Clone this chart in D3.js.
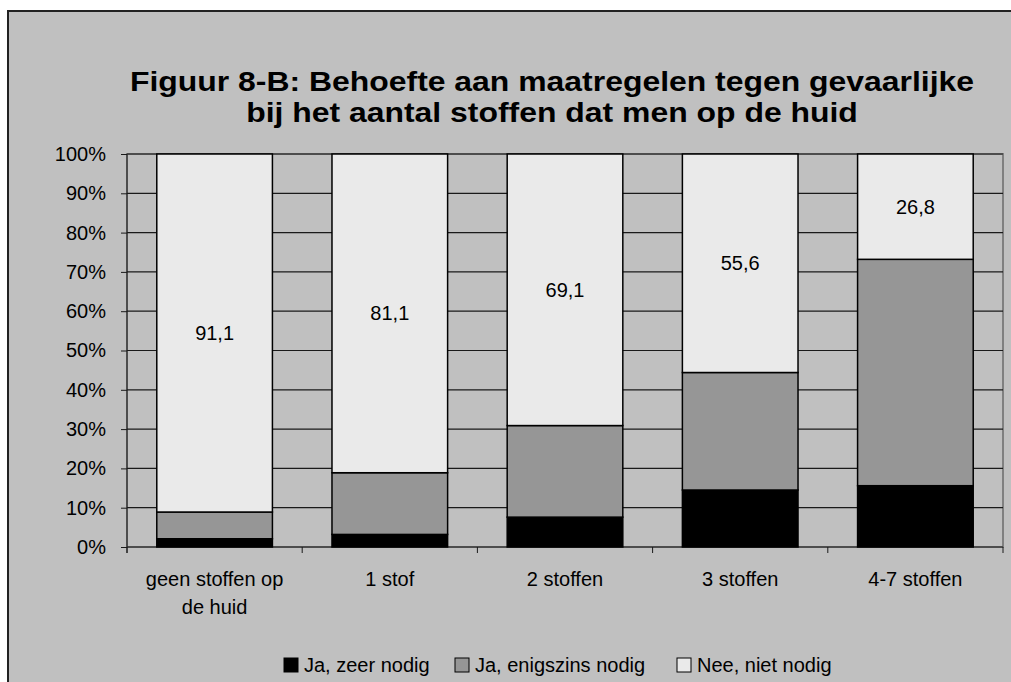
<!DOCTYPE html>
<html>
<head>
<meta charset="utf-8">
<script src="https://cdn.jsdelivr.net/npm/d3@7"></script>
<style>
  html, body { margin: 0; padding: 0; background: #fff; }
  text { font-family: "Liberation Sans", Arial, sans-serif; }
</style>
</head>
<body>
<div id="chart-container"></div>
<script>
// data
let categories = [["geen stoffen op", "de huid"], ["1 stof"], ["2 stoffen"], ["3 stoffen"], ["4-7 stoffen"]];
let zeerNodig = [2.1, 3.2, 7.6, 14.5, 15.6];
let enigszinsNodig = [6.8, 15.7, 23.3, 29.9, 57.6];
let nietNodig = [91.1, 81.1, 69.1, 55.6, 26.8];
let seriesNames = ["Ja, zeer nodig", "Ja, enigszins nodig", "Nee, niet nodig"];
let yTicks = [0, 10, 20, 30, 40, 50, 60, 70, 80, 90, 100];

let W = 1011, H = 682;
let margin = { top: 154, right: 8, bottom: 135, left: 127 };
let width = 1003 - margin.left;
let height = 547 - margin.top;

let colors = ["#000000", "#969696", "#eaeaea"];

let root = d3.select("#chart-container")
  .append("svg")
  .attr("width", W)
  .attr("height", H);

// chart background + frame
root.append("rect")
  .attr("x", 8).attr("y", 11)
  .attr("width", W + 10).attr("height", H + 10)
  .style("fill", "#c0c0c0")
  .style("stroke", "#222")
  .style("stroke-width", 2);

// title (slightly stretched horizontally, like the narrow-tall original)
let title = root.append("g")
  .attr("transform", "translate(552,0) scale(1.14,1)")
  .append("text")
  .attr("text-anchor", "middle")
  .style("font-weight", "bold")
  .style("font-size", "28px");
title.append("tspan").attr("x", 0).attr("y", 91).text("Figuur 8-B: Behoefte aan maatregelen tegen gevaarlijke");
title.append("tspan").attr("x", 0).attr("y", 122).text("bij het aantal stoffen dat men op de huid");

let svg = root.append("g")
  .attr("transform", "translate(" + margin.left + "," + margin.top + ")");

let xScale = d3.scaleBand()
  .domain(d3.range(categories.length))
  .range([0, width])
  .paddingInner(0.34)
  .paddingOuter(0.17);

let yScale = d3.scaleLinear().domain([0, 100]).range([height, 0]);

// plot area border
svg.append("rect")
  .attr("width", width).attr("height", height)
  .style("fill", "#c0c0c0")
  .style("stroke", "#808080")
  .style("stroke-width", 2);

// gridlines
svg.append("g")
  .selectAll("line")
  .data(yTicks.slice(1))
  .enter()
  .append("line")
  .attr("x1", 0).attr("x2", width)
  .attr("y1", (d) => yScale(d)).attr("y2", (d) => yScale(d))
  .style("stroke", "#1a1a1a")
  .style("stroke-width", 1.2);

// Y axis
let yAxis = svg.append("g")
  .call(d3.axisLeft(yScale).tickValues(yTicks).tickSize(6).tickPadding(15).tickFormat((d) => d + "%"));
yAxis.select(".domain").attr("d", "M0," + (height + 6) + "V0").style("stroke", "#1a1a1a");
yAxis.selectAll(".tick line").style("stroke", "#1a1a1a");
yAxis.selectAll("text").style("font-size", "20px").style("fill", "#000");

// X axis with ticks at category boundaries
let bounds = d3.range(categories.length + 1).map((i) => (i * width) / categories.length);
svg.append("line")
  .attr("x1", 0).attr("x2", width)
  .attr("y1", height).attr("y2", height)
  .style("stroke", "#1a1a1a").style("stroke-width", 1.2);
svg.append("g")
  .selectAll("line")
  .data(bounds)
  .enter()
  .append("line")
  .attr("x1", (d) => d).attr("x2", (d) => d)
  .attr("y1", height).attr("y2", height + 6)
  .style("stroke", "#1a1a1a");

svg.append("g")
  .selectAll("text")
  .data(categories)
  .enter()
  .append("text")
  .attr("text-anchor", "middle")
  .style("font-size", "20px")
  .each(function (d, i) {
    let t = d3.select(this);
    d.forEach((line, j) => {
      t.append("tspan")
        .attr("x", xScale(i) + xScale.bandwidth() / 2)
        .attr("y", height + 39 + j * 28)
        .text(line);
    });
  });

// stacked bars
let table = categories.map((c, i) => ({ a: zeerNodig[i], b: enigszinsNodig[i], c: nietNodig[i], i: i }));
let stacked = d3.stack().keys(["a", "b", "c"])(table);

let layers = svg.append("g")
  .selectAll("g")
  .data(stacked)
  .enter()
  .append("g")
  .style("fill", (d, i) => colors[i]);

layers.selectAll("rect")
  .data((d) => d)
  .enter()
  .append("rect")
  .attr("x", (d) => xScale(d.data.i))
  .attr("y", (d) => yScale(d[1]))
  .attr("width", xScale.bandwidth())
  .attr("height", (d) => yScale(d[0]) - yScale(d[1]))
  .style("stroke", "#000")
  .style("stroke-width", 1.5);

// labels in the top segment
svg.append("g")
  .selectAll("text")
  .data(stacked[2])
  .enter()
  .append("text")
  .attr("x", (d) => xScale(d.data.i) + xScale.bandwidth() / 2)
  .attr("y", (d) => yScale((d[0] + d[1]) / 2))
  .attr("dy", "0.35em")
  .attr("text-anchor", "middle")
  .style("font-size", "20px")
  .text((d) => String(d.data.c).replace(".", ","));

// legend
let legendX = [284, 455, 677];
let legend = root.append("g")
  .selectAll("g")
  .data(seriesNames)
  .enter()
  .append("g")
  .attr("transform", (d, i) => "translate(" + legendX[i] + ",658)");

legend.append("rect")
  .attr("width", 14).attr("height", 14)
  .style("fill", (d, i) => colors[i])
  .style("stroke", "#000")
  .style("stroke-width", 1);

legend.append("text")
  .attr("x", 20)
  .attr("y", 7)
  .attr("dy", "0.35em")
  .style("font-size", "20px")
  .text((d) => d);
</script>
</body>
</html>
